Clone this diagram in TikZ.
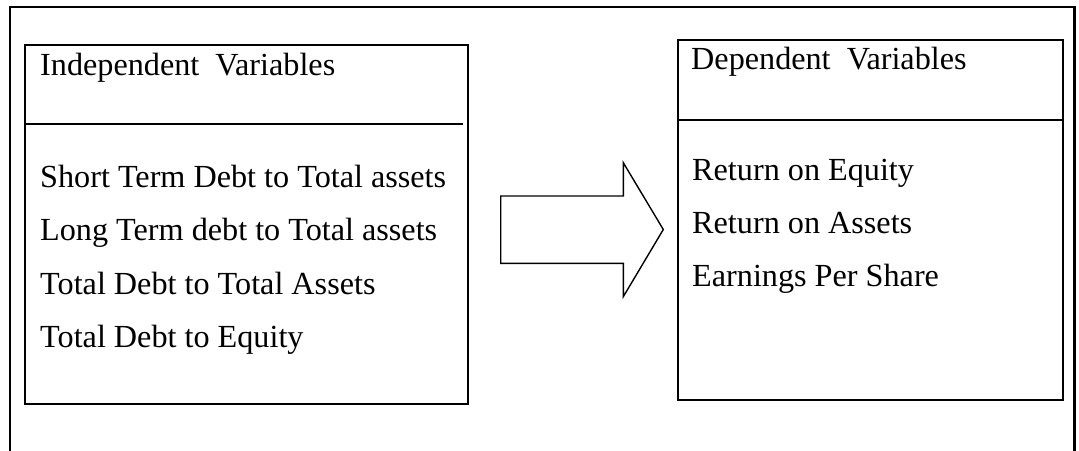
\documentclass[tikz,border=0pt]{standalone}
\usepackage{fontspec}
\setmainfont{Liberation Serif}
\begin{document}
\begin{tikzpicture}[x=1pt,y=-1pt,
  frame/.style={draw=black,line width=2.4pt},
  divider/.style={draw=black,line width=1.7pt},
  lbl/.style={anchor=base west,inner sep=0pt,font=\fontsize{32.2}{36}\selectfont},
  bigarrow/.style={draw=black,line width=1.4pt,line join=miter}]
\useasboundingbox (0,0) rectangle (1079,450);
% outer frame (open at bottom)
\draw[frame] (10,451) -- (10,7) -- (1074.5,7) -- (1074.5,451);
% left box
\draw[frame] (25,45) rectangle (468,404);
\draw[divider] (25,124) -- (463,124);
% right box
\draw[frame] (678,40) rectangle (1063,400);
\draw[divider] (678,120) -- (1062,120);
% texts
\node[lbl] (ih) at (40,75) {Independent\ \ Variables};
\node[lbl] (i1) at (40,187) {Short Term Debt to Total assets};
\node[lbl] (i2) at (40,240.5) {Long Term debt to Total assets};
\node[lbl] (i3) at (40,294) {Total Debt to Total Assets};
\node[lbl] (i4) at (40,347.5) {Total Debt to Equity};
\node[lbl] (dh) at (691,69) {Dependent\ \ Variables};
\node[lbl] (d1) at (692,180) {Return on Equity};
\node[lbl] (d2) at (692,233.3) {Return on Assets};
\node[lbl] (d3) at (692,286.7) {Earnings Per Share};
% block arrow
\draw[bigarrow] (500.7,196) -- (623.3,196) -- (623.3,162.7) -- (663.3,229.5)
  -- (623.3,296.7) -- (623.3,263.3) -- (500.7,263.3) -- cycle;
\end{tikzpicture}
\end{document}
